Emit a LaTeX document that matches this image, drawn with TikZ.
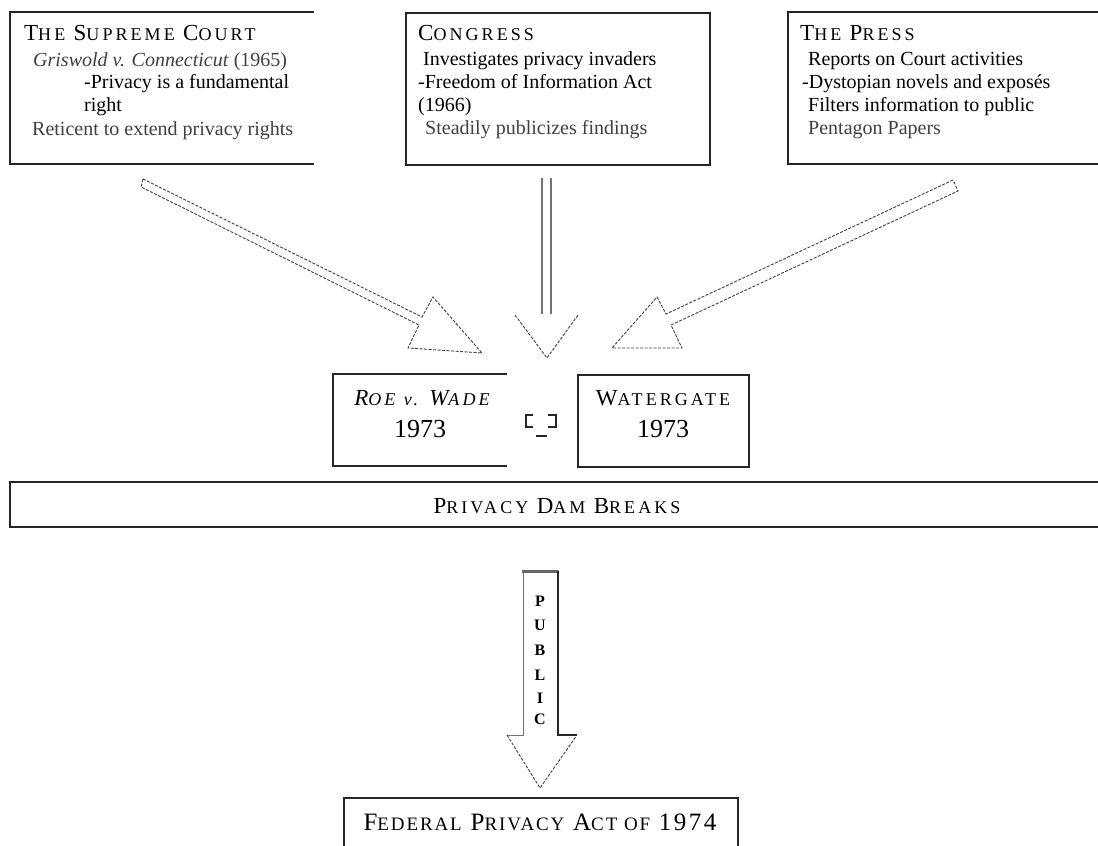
\documentclass[tikz,border=0pt]{standalone}
\usepackage{fontspec}
\setmainfont{Liberation Serif}
\newfontfamily\spfont[LetterSpace=17]{Liberation Serif}
\newfontfamily\fedfont[LetterSpace=10]{Liberation Serif}
\newcommand\BigC[1]{{\fontsize{23}{23}\selectfont #1}}
\newcommand\SmC[1]{{\fontsize{18}{18}\selectfont #1}}
\begin{document}
\begin{tikzpicture}[x=1pt,y=-1pt,
  boxline/.style={line width=2pt,draw=black!85},
  boxnode/.style={boxline,rectangle,inner sep=0pt,anchor=north west},
  txt/.style={anchor=base west,inner sep=0pt,font=\fontsize{20}{23}\selectfont},
  ctxt/.style={anchor=base,inner sep=0pt,font=\fontsize{20}{23}\selectfont},
  faint/.style={text=black!75},
  arrowline/.style={line width=0.9pt,draw=black!75,dash pattern=on 3pt off 1.5pt},
  shaftline/.style={line width=1.1pt,draw=black!55}]
\useasboundingbox (0,0) rectangle (1098,846);
\fill[white] (0,0) rectangle (1098,846);

% --- top boxes
\draw[boxline] (314,12) -- (10,12) -- (10,164) -- (314,164);
\node[boxnode,minimum width=304pt,minimum height=152pt] (congress) at (405,12) {};
\draw[boxline] (1100,12) -- (788,12) -- (788,164) -- (1100,164);

% Supreme Court text
\node[txt] (sctitle) at (24,40) {\spfont\BigC{T}\SmC{HE} \BigC{S}\SmC{UPREME} \BigC{C}\SmC{OURT}};
\node[txt,faint] (sc1) at (33,66) {\textit{Griswold v. Connecticut} (1965)};
\node[txt] (sc2) at (84,88) {-Privacy is a fundamental};
\node[txt] (sc3) at (84,111) {right};
\node[txt,faint] (sc4) at (32,135) {Reticent to extend privacy rights};

% Congress text
\node[txt] (cgtitle) at (418,40) {\spfont\BigC{C}\SmC{ONGRESS}};
\node[txt] (cg1) at (423,65) {Investigates privacy invaders};
\node[txt] (cg2) at (418,88) {-Freedom of Information Act};
\node[txt] (cg3) at (418,111) {(1966)};
\node[txt,faint] (cg4) at (425,134) {Steadily publicizes findings};

% Press text
\node[txt] (prtitle) at (800,40) {\spfont\BigC{T}\SmC{HE} \BigC{P}\SmC{RESS}};
\node[txt] (pr1) at (808,65) {Reports on Court activities};
\node[txt] (pr2) at (802,88) {-Dystopian novels and expos\'es};
\node[txt] (pr3) at (808,111) {Filters information to public};
\node[txt,faint] (pr4) at (808,134) {Pentagon Papers};

% --- arrows from top boxes
\draw[arrowline] (143,179) -- (422,317) -- (433,297) -- (482,353) -- (408,348) -- (419,325) -- (141,187) -- cycle;
\draw[shaftline] (542,178) -- (542,314);
\draw[shaftline] (551,178) -- (551,314);
\draw[arrowline] (515,315) -- (547,358) -- (578,315);
\draw[arrowline] (953,180) -- (666,314) -- (657,297) -- (612,348) -- (682,348) -- (671,325) -- (958,191) -- cycle;

% --- middle boxes
\draw[boxline] (507,374) -- (333,374) -- (333,466) -- (507,466);
\node[ctxt] (roe) at (422,405) {\spfont\itshape\BigC{R}\SmC{OE} \SmC{v.} \BigC{W}\SmC{ADE}};
\node[ctxt,font=\fontsize{26}{26}\selectfont] (roeyr) at (420,437) {1973};
\node[boxnode,minimum width=171pt,minimum height=92pt] (watergate) at (577,374) {};
\node[ctxt] (wg) at (663,405) {\spfont\BigC{W}\SmC{ATERGATE}};
\node[ctxt,font=\fontsize{26}{26}\selectfont] (wgyr) at (663,437) {1973};

% odd glyph between boxes
\draw[line width=2pt,black!85] (533,415) -- (526,415) -- (526,427) -- (533,427);
\draw[line width=2pt,black!85] (548,415) -- (556,415) -- (556,427) -- (548,427);
\draw[line width=2pt,black!85] (536,436) -- (547,436);

% --- dam box
\draw[boxline] (1100,482) -- (10,482) -- (10,527) -- (1100,527);
\node[ctxt] (dam) at (557,513) {\spfont\BigC{P}\SmC{RIVACY} \BigC{D}\SmC{AM} \BigC{B}\SmC{REAKS}};

% --- public arrow
\draw[line width=3pt,black!60] (522,571) -- (558,571);
\draw[line width=2pt,black!85] (558,571) -- (558,735) -- (577,735);
\draw[line width=1pt,black!55] (523,571) -- (523,735) -- (507,735);
\draw[arrowline] (507,735) -- (540,788) -- (577,735);
\foreach \l/\yy [count=\i] in {P/606,U/630,B/655,L/680,I/703,C/724}
  \node[ctxt,font=\fontsize{16}{16}\selectfont\bfseries] (pub\i) at (540,\yy) {\l};

% --- federal box
\draw[boxline] (344,850) -- (344,798) -- (738,798) -- (738,850);
\node[ctxt] (fed) at (540,830) {\fedfont\fontsize{25}{25}\selectfont F{\fontsize{19}{19}\selectfont EDERAL} P{\fontsize{19}{19}\selectfont RIVACY} A{\fontsize{19}{19}\selectfont CT OF} 1974};
\end{tikzpicture}
\end{document}
